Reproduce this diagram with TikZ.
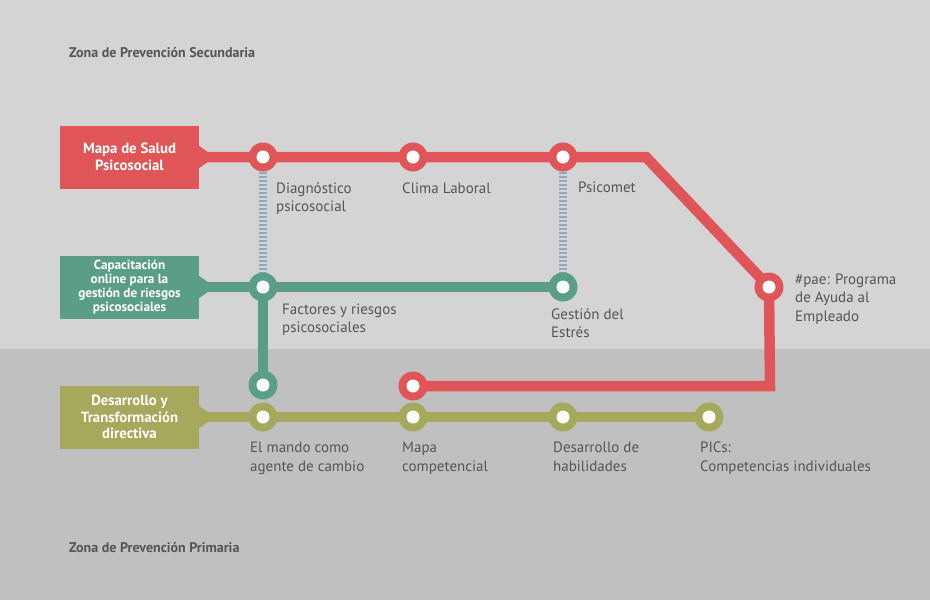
\documentclass[tikz,border=0pt]{standalone}
\usepackage{fontspec}
\setmainfont{PT Sans}
\definecolor{bgtop}{HTML}{D4D4D4}
\definecolor{bgbot}{HTML}{C0C0C0}
\definecolor{cred}{HTML}{E05658}
\definecolor{cgreen}{HTML}{5B9E88}
\definecolor{colive}{HTML}{A6A85B}
\definecolor{ctext}{HTML}{555555}
\definecolor{cladder}{HTML}{8EAABF}
\newcommand\mystrut{\rule{0pt}{12pt}}
\pgfdeclarelayer{bg}
\pgfdeclarelayer{lines}
\pgfsetlayers{bg,lines,main}
\begin{document}
\begin{tikzpicture}[x=1pt,y=-1pt,
  box/.style={fill=#1, text=white, font=\bfseries\fontsize{14.8}{17}\selectfont,
    align=center, inner sep=0pt, minimum width=139pt, minimum height=63pt},
  stn/.style={circle, fill=#1, minimum size=29pt, inner sep=0pt,
    path picture={\fill[white] (path picture bounding box.center) circle (6.5pt);}},
  metro/.style={draw=#1, line width=10.5pt, line join=miter},
  ladder/.style={draw=cladder, line width=8pt, dash pattern=on 1.8pt off 2.2pt},
  lbl/.style={text=ctext, font=\fontsize{15}{18.5}\selectfont, align=left,
    anchor=north west, inner sep=0pt},
  zone/.style={text=ctext, font=\bfseries\fontsize{14}{16}\selectfont,
    anchor=north west, inner sep=0pt}
]
\begin{pgfonlayer}{bg}
  \fill[bgtop] (0,0) rectangle (930,349);
  \fill[bgbot] (0,349) rectangle (930,600);
\end{pgfonlayer}
\useasboundingbox (0,0) rectangle (930,600);

% zone labels
\node[zone] (zsec) at (69,45) {\mystrut Zona de Prevención Secundaria};
\node[zone] (zpri) at (69,540) {\mystrut Zona de Prevención Primaria};

% line boxes
\node[box=cred] (bred) at (129.5,157) {Mapa de Salud\\Psicosocial};
\node[box=cgreen, font=\bfseries\fontsize{13.2}{13.8}\selectfont] (bgreen) at (129.5,287) {Capacitación\\online para la\\gestión de riesgos\\psicosociales};
\node[box=colive, font=\bfseries\fontsize{14.8}{16.5}\selectfont] (bolive) at (129.5,417) {Desarrollo y\\Transformación\\directiva};

% tabs
\fill[cred] (bred.east) ++(0,-11) -- ++(8,5.5) -- ++(0,11) -- ++(-8,5.5) -- cycle;
\fill[cgreen] (bgreen.east) ++(0,-11) -- ++(8,5.5) -- ++(0,11) -- ++(-8,5.5) -- cycle;
\fill[colive] (bolive.east) ++(0,-11) -- ++(8,5.5) -- ++(0,11) -- ++(-8,5.5) -- cycle;

% stations
\node[stn=cred] (r1) at (263,157) {};
\node[stn=cred] (r2) at (413,157) {};
\node[stn=cred] (r3) at (563,157) {};
\node[stn=cred] (r4) at (769,287) {};
\node[stn=cred] (r5) at (413,386) {};
\node[stn=cgreen] (g1) at (263,287) {};
\node[stn=cgreen] (g2) at (563,287) {};
\node[stn=cgreen] (g3) at (263,385) {};
\node[stn=colive] (o1) at (263,417) {};
\node[stn=colive] (o2) at (413,417) {};
\node[stn=colive] (o3) at (563,417) {};
\node[stn=colive] (o4) at (709,417) {};
\coordinate (rc1) at (646,157);
\coordinate (rc2) at (770,386);

\begin{pgfonlayer}{lines}
  \draw[metro=cred] (bred.east) -- (r1.center) -- (r2.center) -- (r3.center) -- (rc1) -- (r4.center);
  \draw[metro=cred] (r4.center) -- (rc2) -- (r5.center);
  \draw[metro=cgreen] (bgreen.east) -- (g1.center) -- (g2.center);
  \draw[metro=cgreen] (g1.center) -- (g3.center);
  \draw[metro=colive] (bolive.east) -- (o1.center) -- (o2.center) -- (o3.center) -- (o4.center);
  \draw[ladder] (r1.south) -- (g1.north);
  \draw[ladder] (r3.south) -- (g2.north);
\end{pgfonlayer}

% labels
\node[lbl] (l1) at (276,181) {\mystrut Diagnóstico\\psicosocial};
\node[lbl] (l2) at (402,181) {\mystrut Clima Laboral};
\node[lbl] (l3) at (578,180) {\mystrut Psicomet};
\node[lbl] (l4) at (282,302) {\mystrut Factores y riesgos\\psicosociales};
\node[lbl] (l5) at (551,307) {\mystrut Gestión del\\Estrés};
\node[lbl] (l6) at (795,272) {\mystrut \#pae: Programa\\de Ayuda al\\Empleado};
\node[lbl] (l7) at (250,440.5) {\mystrut El mando como\\agente de cambio};
\node[lbl] (l8) at (402,440.5) {\mystrut Mapa\\competencial};
\node[lbl] (l9) at (553,440.5) {\mystrut Desarrollo de\\habilidades};
\node[lbl] (l10) at (700,440.5) {\mystrut PICs:\\Competencias individuales};
\end{tikzpicture}
\end{document}
